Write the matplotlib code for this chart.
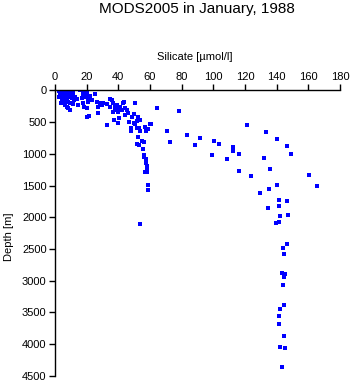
import matplotlib
matplotlib.use("Agg")
import matplotlib.pyplot as plt

# silicate [umol/l] and depth [m]
surf_si = [2.7, 3.2, 3.6, 4.2, 4.8, 5.3, 6.3, 7.4, 8.4, 9.5, 4.2, 5.3, 7.4, 8.4, 9.9, 11.2,
           7.4, 9.5, 11.6, 6.3, 8.4, 10.5, 12.6, 13.7, 8.4, 9.5, 11.2, 7.4, 5.7,
           15.8, 17.9, 19.6, 20.4, 17.9, 19.6, 16.8, 21.1, 22.1, 25.3, 23.2, 21.1,
           17.5, 18.3, 14.7, 20.0, 20.4, 21.7, 26.3, 28.4, 27.4, 29.5, 30.5, 32.6,
           34.7, 36.8, 35.8, 34.7, 37.9, 39.0, 40.0, 41.0, 43.2, 44.2, 42.1, 45.3,
           36.8, 37.9, 27.4, 43.8, 40.0,
           3.0, 4.5, 6.0, 2.5, 5.0, 10.5, 12.0, 3.8, 6.8, 9.0]
surf_d = [4, 46, 88, 125, 162, 194, 230, 257, 283, 309, 20, 20, 20, 4, 20, 4,
          73, 73, 73, 99, 109, 125, 109, 141, 178, 204, 215, 152, 141,
          0, 20, 4, 46, 73, 99, 125, 125, 88, 57, 152, 178,
          194, 257, 230, 283, 425, 404, 178, 204, 257, 230, 194, 215,
          257, 204, 152, 141, 257, 230, 283, 257, 204, 283, 309, 309,
          336, 309, 362, 189, 336,
          60, 150, 60, 110, 35, 40, 150, 200, 180, 95]

mid_si = [50.7, 49.7, 52.2, 51.6, 53.7, 53.1, 51.6, 53.7, 58.5, 57.4, 47.8, 47.8,
          52.6, 54.7, 56.0, 52.0, 53.2, 55.8, 56.2, 56.4, 57.3, 57.3, 57.9, 57.9,
          56.6, 58.0, 60.4, 50.5, 49.9, 48.8, 46.3, 46.5, 44.0, 40.4, 39.6, 37.5,
          32.6, 59.8, 56.9, 58.5, 58.5, 53.5]
mid_d = [204, 367, 414, 483, 467, 598, 588, 636, 609, 640, 598, 640,
         730, 793, 819, 845, 861, 929, 1045, 1019, 1082, 1150, 1192, 1256,
         1287, 1287, 535, 535, 509, 424, 361, 498, 393, 435, 509, 467,
         546, 535, 572, 1497, 1576, 2102]

far_si = [64.6, 78.5, 60.6, 70.5, 72.6, 83.6, 88.4, 91.6, 100.6, 103.6, 99.4, 108.5,
          112.6, 112.6, 116.4, 121.5, 133.3, 140.4, 146.4, 149.3, 132.2, 116.4,
          123.5, 135.5, 160.6]
far_d = [272, 330, 535, 640, 814, 703, 866, 756, 798, 850, 1019, 1077,
         898, 956, 1003, 546, 656, 771, 882, 998, 1061, 1276,
         1355, 1245, 1329]

deep_si = [140.4, 165.3, 135.4, 129.7, 141.5, 146.4, 141.7, 134.6, 142.3, 147.3,
           141.3, 139.4, 146.4, 144.3, 144.5, 143.4, 145.5, 144.7, 144.3, 144.7,
           142.3, 141.5, 141.7, 144.5, 142.3, 145.5, 143.4]
deep_d = [1492, 1508, 1560, 1613, 1734, 1745, 1823, 1860, 1981, 1965,
          2081, 2097, 2428, 2481, 2580, 2885, 2900, 2948, 3069, 3390,
          3443, 3558, 3680, 3879, 4047, 4063, 4368]

xticks = [0, 20, 40, 60, 80, 100, 120, 140, 160, 180]
yticks = [0, 500, 1000, 1500, 2000, 2500, 3000, 3500, 4000, 4500]

silicate = surf_si + mid_si + far_si + deep_si
depth = surf_d + mid_d + far_d + deep_d

plt.rcParams['font.family'] = ['Liberation Sans', 'DejaVu Sans']

fig = plt.figure(figsize=(3.51, 3.84), dpi=100)
W, H = 351, 384
ax = fig.add_axes([55 / W, 1 - 375.7 / H, 285 / W, (375.7 - 90.4) / H])

ax.plot(silicate, depth, 's', color='#0000ff', markersize=2.4, markeredgewidth=0)

ax.set_xlim(0, 180)
ax.set_ylim(4500, 0)
ax.set_xticks(xticks)
ax.set_yticks(yticks)
ax.xaxis.tick_top()
ax.tick_params(axis='both', direction='out', length=4, width=1, labelsize=8, pad=2)
for s in ['right', 'bottom']:
    ax.spines[s].set_visible(False)
for s in ['left', 'top']:
    ax.spines[s].set_linewidth(1)

fig.text(197 / W, 1 - 9 / H, 'MODS2005 in January, 1988', ha='center', va='center', fontsize=11)
fig.text(195 / W, 1 - 57 / H, 'Silicate [µmol/l]', ha='center', va='center', fontsize=8)
fig.text(9 / W, 1 - 237 / H, 'Depth [m]', ha='center', va='center', rotation=90, fontsize=8)

fig.savefig('out.png', dpi=100)
